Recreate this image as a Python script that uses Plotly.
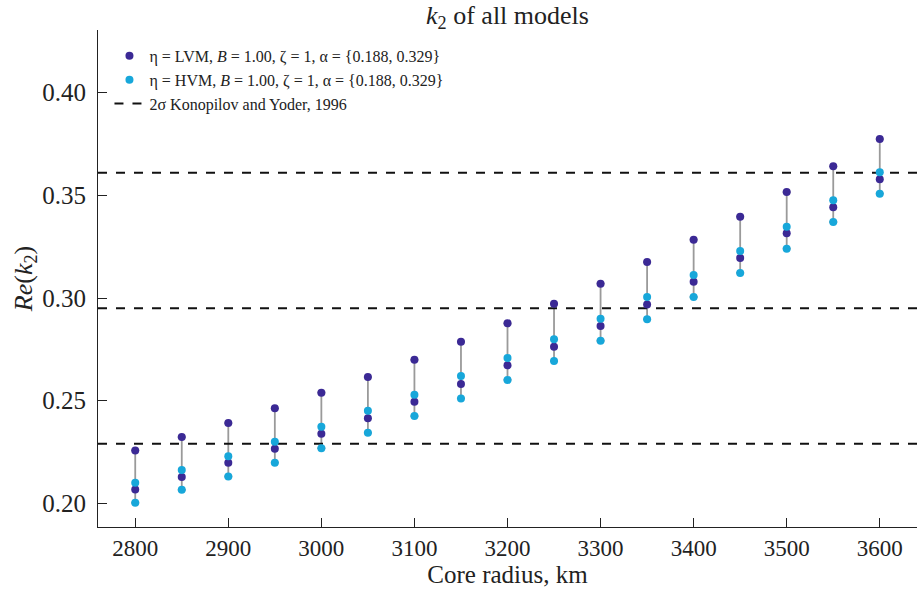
import plotly.graph_objects as go

radius = [2800, 2850, 2900, 2950, 3000, 3050, 3100, 3150, 3200, 3250,
          3300, 3350, 3400, 3450, 3500, 3550, 3600]
lvm_upper = [0.2258, 0.2323, 0.2391, 0.2463, 0.2539, 0.2615, 0.2699, 0.2787, 0.2877,
             0.2972, 0.3070, 0.3175, 0.3284, 0.3396, 0.3516, 0.3641, 0.3774]
lvm_lower = [0.2068, 0.2128, 0.2198, 0.2266, 0.2339, 0.2415, 0.2495, 0.2581, 0.2672,
             0.2763, 0.2864, 0.2969, 0.3079, 0.3195, 0.3315, 0.3442, 0.3578]
hvm_upper = [0.2100, 0.2162, 0.2229, 0.2300, 0.2373, 0.2451, 0.2529, 0.2620, 0.2708,
             0.2799, 0.2899, 0.3005, 0.3112, 0.3229, 0.3347, 0.3476, 0.3612]
hvm_lower = [0.2003, 0.2066, 0.2131, 0.2198, 0.2269, 0.2344, 0.2425, 0.2511, 0.2601,
             0.2693, 0.2792, 0.2896, 0.3005, 0.3122, 0.3240, 0.3370, 0.3508]
obs_levels = [0.229, 0.295, 0.361]

lvm_color = "#3b2995"
hvm_color = "#17a7da"
serif = "Liberation Serif, Times New Roman, serif"

fig = go.Figure()

# gray range bars (from lowest to highest value at each radius)
tops = [max(a, b, c, d) for a, b, c, d in zip(lvm_upper, lvm_lower, hvm_upper, hvm_lower)]
bots = [min(a, b, c, d) for a, b, c, d in zip(lvm_upper, lvm_lower, hvm_upper, hvm_lower)]
fig.add_trace(go.Scatter(
    x=radius, y=bots, mode="markers",
    marker=dict(size=1, opacity=0),
    error_y=dict(type="data", symmetric=False,
                 array=[t - b for t, b in zip(tops, bots)],
                 arrayminus=[0] * len(bots),
                 color="#9a9a9a", thickness=1.8, width=4),
    showlegend=False, hoverinfo="skip"))

# dashed observational bounds
xs, ys = [], []
for lv in obs_levels:
    xs += [2760, 3640, None]
    ys += [lv, lv, None]
fig.add_trace(go.Scatter(
    x=xs, y=ys, mode="lines",
    line=dict(color="#111111", width=2, dash="dash"),
    name="2σ Konopilov and Yoder, 1996", legendrank=3))

fig.add_trace(go.Scatter(
    x=radius + radius, y=lvm_upper + lvm_lower, mode="markers",
    marker=dict(color=lvm_color, size=8),
    name="η = LVM, <i>B</i> = 1.00, ζ = 1, α = {0.188, 0.329}", legendrank=1))
fig.add_trace(go.Scatter(
    x=radius + radius, y=hvm_upper + hvm_lower, mode="markers",
    marker=dict(color=hvm_color, size=8),
    name="η = HVM, <i>B</i> = 1.00, ζ = 1, α = {0.188, 0.329}", legendrank=2))

fig.update_layout(
    width=917, height=593,
    margin=dict(l=98, r=0, t=30, b=66),
    plot_bgcolor="white", paper_bgcolor="white",
    font=dict(family=serif, color="#222222"),
    title=dict(text="<i>k</i><sub>2</sub> of all models", xref="paper", x=0.5,
               xanchor="center", yref="container", y=0.975, yanchor="middle",
               font=dict(size=26, family=serif)),
    legend=dict(x=0.014, y=0.982, xanchor="left", yanchor="top",
                font=dict(size=16, family=serif), bgcolor="rgba(0,0,0,0)",
                traceorder="normal", itemwidth=30, tracegroupgap=2),
    xaxis=dict(range=[2760, 3640], tickvals=list(range(2800, 3601, 100)),
               ticks="inside", ticklen=9, tickcolor="#222", showline=True,
               linecolor="#222", linewidth=1.2, showgrid=False, zeroline=False,
               tickfont=dict(size=23, family=serif),
               title=dict(text="Core radius, km", font=dict(size=25, family=serif), standoff=4)),
    yaxis=dict(range=[0.1885, 0.4305], tickvals=[0.20, 0.25, 0.30, 0.35, 0.40],
               tickformat=".2f", ticks="inside", ticklen=9, tickcolor="#222",
               showline=True, linecolor="#222", linewidth=1.2, showgrid=False,
               zeroline=False, tickfont=dict(size=25, family=serif),
               ticklabelstandoff=6,
               title=dict(text="<i>Re</i>(<i>k</i><sub>2</sub>)", font=dict(size=26, family=serif), standoff=2)),
)

fig.write_html("out.html")
